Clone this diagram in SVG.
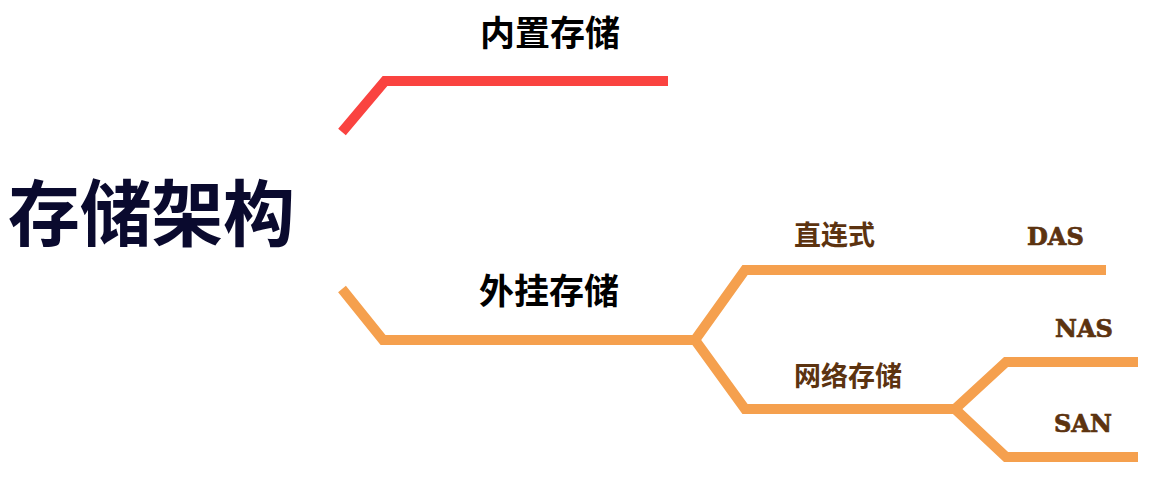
<svg xmlns="http://www.w3.org/2000/svg" width="1154" height="478" viewBox="0 0 1154 478">
<style>
.ln{fill:none;stroke-width:10;stroke-linejoin:miter;stroke-linecap:butt}
.red{stroke:#FA4340}
.org{stroke:#F5A04E}
.cjk{font-family:"Noto Sans CJK SC","Noto Sans",sans-serif;font-weight:bold}
.l1{font-size:35px;fill:#000000;text-anchor:middle}
.l2{font-size:27px;fill:#5C3310}
.en{font-family:"DejaVu Serif","Liberation Serif",serif;font-weight:bold;font-size:24px;fill:#5C3310;stroke:#5C3310;stroke-width:0.7}
</style>
<rect width="1154" height="478" fill="#FFFFFF"/>
<g id="connectors">
<polyline class="ln red" points="342,132 385,81 668,81"/>
<polyline class="ln org" points="342,289 383,340 695,340"/>
<polyline class="ln org" points="695,340 745,270 1106,270"/>
<polyline class="ln org" points="695,340 745,409 955,409"/>
<polyline class="ln org" points="955,409 1006,362 1138,362"/>
<polyline class="ln org" points="955,409 1006,457 1138,457"/>
</g>
<g id="root"><text class="cjk" x="8" y="240" font-size="72" fill="#0A0A2E" textLength="287">存储架构</text></g>
<g id="n-internal"><text class="cjk l1" x="550" y="46">内置存储</text></g>
<g id="n-external"><text class="cjk l1" x="549" y="304">外挂存储</text></g>
<g id="n-direct"><text class="cjk l2" x="794" y="245">直连式</text></g>
<g id="n-das"><text class="en" x="1027" y="245">DAS</text></g>
<g id="n-network"><text class="cjk l2" x="794" y="386">网络存储</text></g>
<g id="n-nas"><text class="en" x="1055" y="337">NAS</text></g>
<g id="n-san"><text class="en" x="1054" y="432">SAN</text></g>
</svg>
